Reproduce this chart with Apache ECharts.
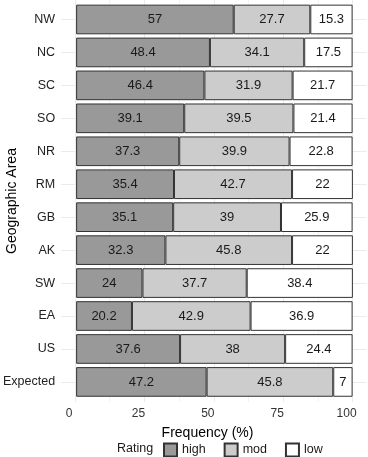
<!DOCTYPE html>
<html>
<head>
<meta charset="utf-8">
<script src="https://cdn.jsdelivr.net/npm/echarts@6/dist/echarts.min.js"></script>
<style>
  html, body { margin: 0; padding: 0; background: #fff; }
  #chart { width: 368px; height: 457px; }
</style>
</head>
<body>
<div id="chart"></div>
<script>
// areas, top to bottom
const categories = ['NW', 'NC', 'SC', 'SO', 'NR', 'RM', 'GB', 'AK', 'SW', 'EA', 'US', 'Expected'];
const ratings = ['high', 'mod', 'low'];
const high = [57, 48.4, 46.4, 39.1, 37.3, 35.4, 35.1, 32.3, 24, 20.2, 37.6, 47.2];
const mod = [27.7, 34.1, 31.9, 39.5, 39.9, 42.7, 39, 45.8, 37.7, 42.9, 38, 45.8];
const low = [15.3, 17.5, 21.7, 21.4, 22.8, 22, 25.9, 22, 38.4, 36.9, 24.4, 7];
const fills = ['#999999', '#cccccc', '#ffffff'];

const FONT = 'Liberation Sans, Arial, sans-serif';

const chart = echarts.init(document.getElementById('chart'), null, { renderer: 'canvas' });

const seriesValues = [high, mod, low];
const series = ratings.map((name, i) => ({
  name: name,
  type: 'bar',
  stack: 'total',
  xAxisIndex: 2,
  yAxisIndex: 2,
  barWidth: '90%',
  itemStyle: {
    color: fills[i],
    borderColor: '#333',
    borderWidth: 1
  },
  label: {
    show: true,
    position: 'inside',
    color: '#1a1a1a',
    fontFamily: FONT,
    fontSize: 13
  },
  data: seriesValues[i]
}));

chart.setOption({
  animation: false,
  backgroundColor: '#fff',
  grid: [
    // vertical grid lines + x labels
    { left: 75, width: 277.6, top: 0, height: 402 },
    // horizontal grid lines through category centres
    { left: 61, width: 305.5, top: 19.5, height: 362.5 },
    // bars
    { left: 75, width: 277.6, top: 3, height: 395.4 }
  ],
  xAxis: [
    {
      gridIndex: 0,
      type: 'value',
      min: 0,
      max: 100,
      interval: 25,
      axisLine: { show: false },
      axisTick: { show: false },
      minorTick: { show: false, splitNumber: 2 },
      splitLine: { show: true, lineStyle: { color: '#ebebeb', width: 1 } },
      minorSplitLine: { show: true, lineStyle: { color: '#f3f3f3', width: 1 } },
      axisLabel: {
        color: '#333',
        fontFamily: FONT,
        fontSize: 12,
        margin: 6,
        padding: [0, 12, 0, 0]
      }
    },
    { gridIndex: 1, type: 'value', show: false },
    { gridIndex: 2, type: 'value', min: 0, max: 100, show: false }
  ],
  yAxis: [
    { gridIndex: 0, type: 'value', show: false },
    {
      gridIndex: 1,
      type: 'category',
      data: categories,
      boundaryGap: false,
      inverse: true,
      axisLine: { show: false },
      axisTick: { show: false },
      axisLabel: { show: false },
      splitLine: { show: true, interval: 0, lineStyle: { color: '#ebebeb', width: 1 } }
    },
    {
      gridIndex: 2,
      type: 'category',
      data: categories,
      inverse: true,
      axisLine: { show: false },
      axisTick: { show: false },
      splitLine: { show: false },
      axisLabel: {
        interval: 0,
        color: '#222',
        fontFamily: FONT,
        fontSize: 12.5,
        margin: 21
      }
    }
  ],
  legend: {
    data: ratings,
    left: 163,
    top: 442.5,
    padding: 0,
    icon: 'rect',
    itemWidth: 13,
    itemHeight: 13,
    itemGap: 18,
    textStyle: { color: '#1a1a1a', fontFamily: FONT, fontSize: 12.5 }
  },
  graphic: [
    {
      type: 'text',
      x: 207.5,
      y: 433,
      style: {
        text: 'Frequency (%)',
        textAlign: 'center',
        textVerticalAlign: 'middle',
        fill: '#000',
        font: '14px ' + FONT
      }
    },
    {
      type: 'text',
      x: 12,
      y: 201,
      rotation: Math.PI / 2,
      style: {
        text: 'Geographic Area',
        textAlign: 'center',
        textVerticalAlign: 'middle',
        fill: '#000',
        font: '14px ' + FONT
      }
    },
    {
      type: 'text',
      x: 117,
      y: 449,
      style: {
        text: 'Rating',
        textAlign: 'left',
        textVerticalAlign: 'middle',
        fill: '#1a1a1a',
        font: '12.5px ' + FONT
      }
    }
  ],
  series: series
});
</script>
</body>
</html>
